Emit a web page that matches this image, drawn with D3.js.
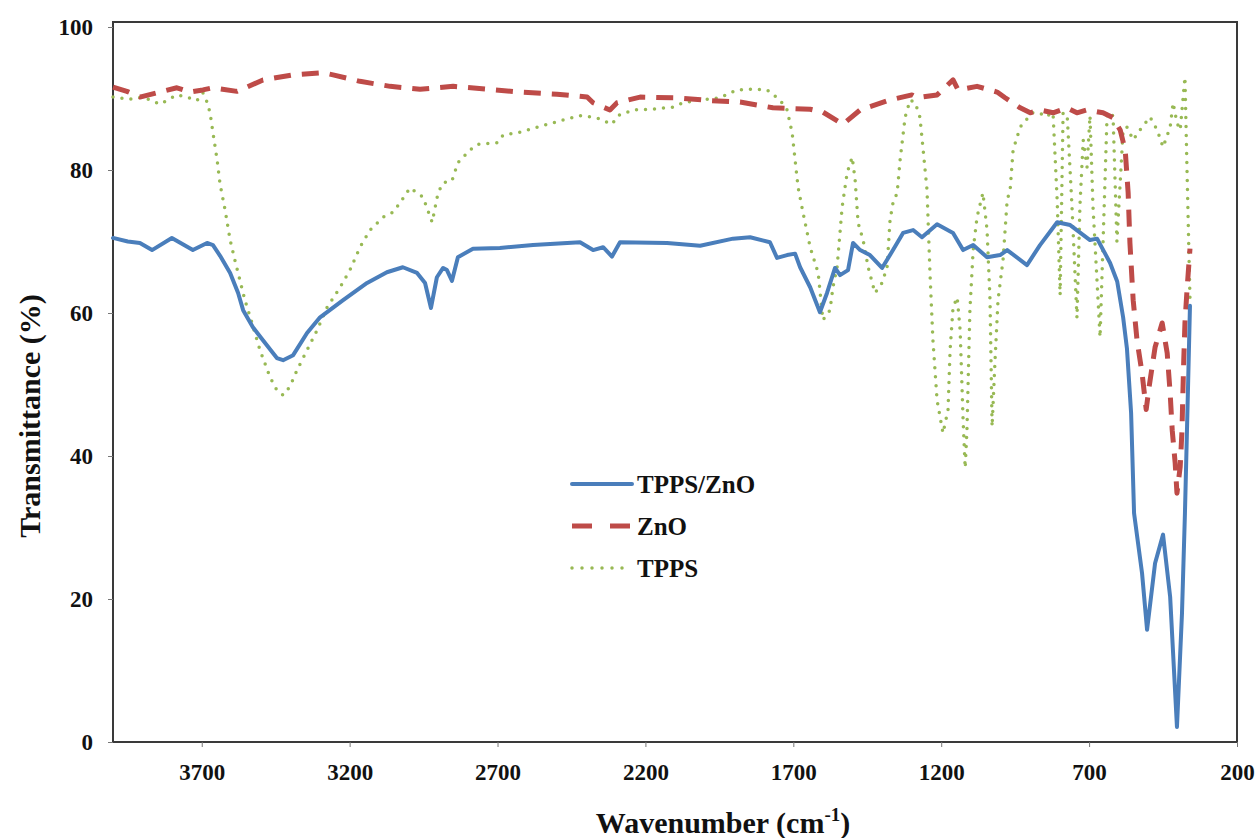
<!DOCTYPE html>
<html>
<head>
<meta charset="utf-8">
<script src="https://cdn.jsdelivr.net/npm/d3@7"></script>
<style>
    body { margin: 0; background: #fff; }
    .axis text { font-family: "Liberation Serif", "Times New Roman", serif; font-weight: bold; font-size: 23px; fill: #111; }
    .axis line { stroke: #777; }
    .title { font-family: "Liberation Serif", "Times New Roman", serif; font-weight: bold; fill: #111; }
</style>
</head>
<body>
<div id="chart"></div>
<script>
// ticks
const xTicks = [3700, 3200, 2700, 2200, 1700, 1200, 700, 200];
const yTicks = [0, 20, 40, 60, 80, 100];

// series: [wavenumber, transmittance]
const tppsZno = [
    [4000, 70.5], [3950, 70.0], [3909, 69.8], [3868, 68.8], [3801, 70.5], [3730, 68.8], [3682, 69.8],
    [3662, 69.5], [3638, 68.0], [3604, 65.6], [3577, 62.8], [3560, 60.4], [3527, 58.0], [3493, 56.2],
    [3446, 53.7], [3425, 53.4], [3391, 54.1], [3344, 57.2], [3300, 59.4], [3222, 61.8], [3141, 64.2],
    [3074, 65.7], [3020, 66.4], [2972, 65.6], [2945, 64.2], [2925, 60.7], [2905, 65.0], [2884, 66.3],
    [2871, 66.0], [2854, 64.5], [2834, 67.8], [2783, 69.0], [2692, 69.1], [2580, 69.5], [2421, 69.9],
    [2377, 68.8], [2343, 69.2], [2313, 67.9], [2286, 69.9], [2127, 69.8], [2015, 69.4], [1904, 70.4],
    [1846, 70.6], [1779, 69.9], [1755, 67.7], [1721, 68.1], [1694, 68.3], [1677, 66.4], [1643, 63.6],
    [1610, 60.1], [1586, 62.8], [1559, 66.3], [1542, 65.3], [1515, 66.0], [1498, 69.8], [1474, 68.8],
    [1441, 68.1], [1400, 66.3], [1363, 68.8], [1329, 71.2], [1295, 71.6], [1265, 70.6], [1214, 72.4],
    [1160, 71.2], [1126, 68.8], [1092, 69.5], [1045, 67.8], [1001, 68.1], [977, 68.8], [910, 66.7],
    [866, 69.5], [808, 72.7], [764, 72.3], [697, 70.2], [673, 70.4], [629, 67.0], [605, 64.4],
    [585, 59.4], [572, 55.0], [558, 46.0], [548, 32.0], [521, 23.6], [504, 15.7], [477, 25.0],
    [450, 29.0], [426, 20.3], [403, 2.1], [386, 18.0], [376, 32.0], [365, 50.6], [359, 61.0]
];

const zno = [
    [4000, 91.6], [3953, 91.0], [3909, 90.2], [3851, 90.8], [3784, 91.5], [3740, 90.9], [3696, 91.2],
    [3662, 91.5], [3581, 91.0], [3547, 91.6], [3493, 92.6], [3391, 93.3], [3290, 93.6], [3256, 93.3],
    [3165, 92.4], [3063, 91.7], [2962, 91.3], [2850, 91.7], [2735, 91.3], [2624, 90.9], [2499, 90.6],
    [2397, 90.2], [2377, 89.4], [2320, 88.4], [2296, 89.4], [2218, 90.2], [2093, 90.1], [1981, 89.7],
    [1880, 89.5], [1769, 88.7], [1643, 88.5], [1600, 88.1], [1532, 86.4], [1474, 88.4], [1373, 89.8],
    [1299, 90.5], [1282, 90.1], [1214, 90.5], [1160, 92.6], [1143, 91.2], [1079, 91.7], [1011, 90.9],
    [984, 90.1], [933, 88.7], [899, 88.0], [866, 88.4], [822, 88.0], [775, 88.7], [741, 88.0],
    [707, 88.4], [653, 88.0], [619, 87.3], [595, 85.6], [578, 82.8], [568, 76.8], [562, 69.8],
    [551, 61.8], [538, 56.2], [521, 51.6], [507, 46.5], [497, 49.7], [477, 55.2], [453, 58.6],
    [436, 54.4], [426, 48.8], [419, 43.6], [409, 39.0], [403, 34.8], [392, 38.5], [386, 43.6],
    [383, 48.8], [380, 53.4], [376, 58.6], [369, 63.2], [359, 69.0]
];

const tpps = [
    [4000, 90.2], [3943, 89.9], [3899, 90.2], [3841, 89.2], [3784, 90.5], [3750, 90.2], [3716, 89.7],
    [3696, 90.8], [3682, 89.5], [3672, 88.0], [3662, 85.2], [3648, 81.4], [3638, 78.0], [3621, 74.4],
    [3604, 70.2], [3588, 67.4], [3571, 64.6], [3554, 61.8], [3530, 58.6], [3503, 54.8], [3469, 51.0],
    [3446, 49.2], [3425, 48.5], [3402, 49.7], [3378, 52.0], [3344, 54.8], [3310, 57.6], [3276, 60.8],
    [3232, 63.6], [3199, 66.0], [3165, 69.2], [3131, 71.6], [3087, 73.4], [3053, 74.1], [3030, 75.4],
    [2996, 77.5], [2952, 76.2], [2921, 72.7], [2901, 76.8], [2884, 78.2], [2854, 78.5], [2834, 81.0],
    [2793, 82.8], [2766, 83.6], [2702, 83.8], [2681, 84.9], [2624, 85.3], [2566, 86.0], [2512, 86.6],
    [2479, 87.0], [2421, 87.6], [2364, 87.3], [2313, 86.4], [2293, 87.6], [2242, 88.4], [2174, 88.5],
    [2107, 88.8], [2073, 89.4], [2015, 89.8], [1948, 90.1], [1890, 91.2], [1846, 91.3], [1789, 91.2],
    [1745, 89.8], [1721, 88.4], [1704, 85.2], [1694, 81.4], [1684, 77.6], [1667, 74.0], [1643, 69.2],
    [1616, 65.6], [1600, 59.0], [1576, 60.4], [1566, 63.6], [1552, 66.4], [1535, 74.8], [1518, 79.6],
    [1501, 81.8], [1491, 78.6], [1481, 72.6], [1464, 70.2], [1447, 66.4], [1424, 62.8], [1400, 64.2],
    [1383, 66.4], [1373, 73.0], [1363, 75.4], [1349, 76.8], [1339, 81.4], [1322, 87.4], [1305, 89.8],
    [1288, 89.4], [1272, 87.4], [1261, 82.8], [1248, 77.2], [1238, 65.6], [1228, 56.2], [1214, 47.8],
    [1194, 43.2], [1177, 46.4], [1170, 54.8], [1160, 60.8], [1146, 62.2], [1136, 57.6], [1126, 45.0],
    [1119, 38.3], [1113, 43.6], [1103, 60.4], [1092, 68.8], [1079, 73.4], [1059, 76.8], [1045, 71.6],
    [1035, 61.8], [1028, 44.1], [1018, 53.4], [1008, 61.8], [991, 67.4], [977, 75.8], [967, 77.2],
    [957, 82.8], [933, 86.0], [893, 88.0], [866, 88.0], [849, 87.4], [822, 88.0], [808, 75.8],
    [798, 62.5], [788, 88.0], [774, 87.6], [758, 75.0], [741, 59.3], [731, 75.0], [720, 84.2],
    [707, 80.4], [697, 87.6], [687, 75.0], [663, 56.6], [639, 88.0], [619, 87.6], [606, 70.0],
    [585, 85.6], [572, 86.0], [551, 84.2], [528, 85.6], [494, 87.4], [470, 85.6], [450, 83.2],
    [426, 86.0], [416, 89.4], [403, 86.6], [392, 85.6], [376, 93.0], [369, 80.0], [359, 62.0]
];

const seriesNames = ["TPPS/ZnO", "ZnO", "TPPS"];
const seriesData = [tppsZno, zno, tpps];

const width = 1260;
const height = 838;
const plotLeft = 113, plotRight = 1237, plotTop = 22, plotBottom = 742;

const svg = d3.select("#chart")
    .append("svg")
    .attr("width", width)
    .attr("height", height);

const xScale = d3.scaleLinear().domain([4000, 200]).range([plotLeft, plotRight]);
const yScale = d3.scaleLinear().domain([0, 100]).range([plotBottom, 27]);

// line styles, same order as seriesNames
const styles = [
    { color: "#4A7EBB", width: 4, dash: null, cap: "round" },
    { color: "#BE4B48", width: 5, dash: "17,11", cap: "butt" },
    { color: "#98B954", width: 3.5, dash: "0,9", cap: "round" }
];

// frame
svg.append("rect")
    .attr("x", plotLeft)
    .attr("y", plotTop)
    .attr("width", plotRight - plotLeft)
    .attr("height", plotBottom - plotTop)
    .attr("fill", "none")
    .attr("stroke", "#3a3a3a")
    .attr("stroke-width", 2);

// axes
const xAxis = svg.append("g")
    .attr("class", "axis")
    .attr("transform", `translate(0, ${plotBottom})`)
    .call(d3.axisBottom(xScale).tickValues(xTicks).tickSize(5).tickPadding(17).tickFormat(d3.format("d")));
xAxis.select(".domain").remove();

const yAxis = svg.append("g")
    .attr("class", "axis")
    .attr("transform", `translate(${plotLeft}, 0)`)
    .call(d3.axisLeft(yScale).tickValues(yTicks).tickSize(5).tickPadding(15).tickFormat(d3.format("d")));
yAxis.select(".domain").remove();

// lines
const line = d3.line()
    .x(function (d) { return xScale(d[0]); })
    .y(function (d) { return yScale(d[1]); });

// draw TPPS first so others sit on top
const order = [2, 1, 0];
for (let k = 0; k < order.length; k++) {
    const i = order[k];
    svg.append("path")
        .datum(seriesData[i])
        .attr("d", line)
        .attr("fill", "none")
        .attr("stroke", styles[i].color)
        .attr("stroke-width", styles[i].width)
        .attr("stroke-linejoin", "round")
        .attr("stroke-linecap", styles[i].cap)
        .attr("stroke-dasharray", styles[i].dash);
}

// legend
const legendX = 572;
const legendY = 484;
const legendStep = 42;
for (let i = 0; i < seriesNames.length; i++) {
    const ly = legendY + i * legendStep;
    svg.append("line")
        .attr("x1", legendX)
        .attr("x2", legendX + 60)
        .attr("y1", ly)
        .attr("y2", ly)
        .attr("stroke", styles[i].color)
        .attr("stroke-width", styles[i].width)
        .attr("stroke-linecap", styles[i].cap)
        .attr("stroke-dasharray", i == 1 ? "20,18" : (i == 2 ? "0,10" : null));

    svg.append("text")
        .attr("class", "title")
        .attr("x", legendX + 65)
        .attr("y", ly)
        .attr("dy", "0.35em")
        .attr("font-size", "25px")
        .text(seriesNames[i]);
}

// axis titles
const xTitle = svg.append("text")
    .attr("class", "title")
    .attr("x", 723)
    .attr("y", 833)
    .attr("text-anchor", "middle")
    .attr("font-size", "30px");
xTitle.append("tspan").text("Wavenumber (cm");
xTitle.append("tspan").attr("font-size", "19px").attr("dy", -12).text("-1");
xTitle.append("tspan").attr("dy", 12).text(")");

svg.append("text")
    .attr("class", "title")
    .attr("transform", "translate(40, 416) rotate(-90)")
    .attr("text-anchor", "middle")
    .attr("font-size", "30px")
    .text("Transmittance (%)");
</script>
</body>
</html>
